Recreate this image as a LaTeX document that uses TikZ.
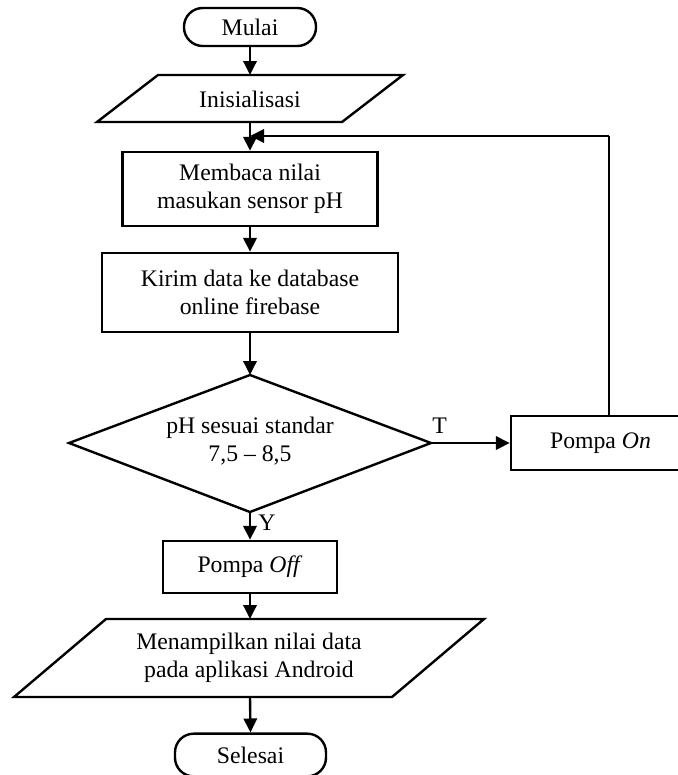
\documentclass[tikz,border=0pt]{standalone}
\usepackage{fontspec}
\setmainfont{Liberation Serif}
\usetikzlibrary{arrows.meta}
\begin{document}
\begin{tikzpicture}[x=0.75pt,y=-0.75pt,
  every node/.style={font=\fontsize{17.8pt}{20.6pt}\selectfont, inner sep=0pt, align=center},
  shp/.style={draw, line width=1.8pt},
  boxnode/.style={shp, rectangle},
  term/.style={shp, rectangle, rounded corners=14pt},
  arr/.style={line width=1.8pt, -{Triangle[length=10.5pt,width=10pt]}},
  thinline/.style={line width=0.9pt},
]
\useasboundingbox (0,0) rectangle (678,775);
\clip (0,0) rectangle (678,775);

% nodes
\node[term, minimum width=99pt, minimum height=28.5pt] (mulai) at (250,27) {Mulai};

\draw[shp] (158,75) -- (403,75) -- (342,122) -- (97,122) -- cycle;
\node (inis) at (250,99) {Inisialisasi};
\coordinate (inisT) at (250,75);
\coordinate (inisB) at (250,122);

\node[boxnode, minimum width=191.25pt, minimum height=55.5pt] (baca) at (250,189) {Membaca nilai\\masukan sensor pH};
\node[boxnode, minimum width=222pt, minimum height=59.25pt] (kirim) at (250,292.5) {Kirim data ke database\\online firebase};

\draw[shp] (250,375) -- (431,443) -- (250,512) -- (69,443) -- cycle;
\node (dec) at (250,441) {pH sesuai standar\\7,5 -- 8,5};
\coordinate (decT) at (250,375);
\coordinate (decR) at (431,443);
\coordinate (decB) at (250,512);

\node[boxnode, minimum width=134.25pt, minimum height=40.5pt] (on) at (600.5,443) {Pompa \textit{On}};
\node[boxnode, minimum width=130.5pt, minimum height=39pt] (off) at (250,567) {Pompa \textit{Off}};

\draw[shp] (106,619) -- (484,619) -- (392,697) -- (14,697) -- cycle;
\node (tampil) at (249,658) {Menampilkan nilai data\\pada aplikasi Android};
\coordinate (tampilT) at (250,619);
\coordinate (tampilB) at (250,697);

\node[term, minimum width=113.25pt, minimum height=32pt] (selesai) at (250.5,755) {Selesai};

\node (tlab) at (439.5,426) {T};
\node (ylab) at (267,522.5) {Y};

% connectors
\draw[arr] (mulai.south) -- (inisT);
\draw[arr] (inisB) -- (baca.north);
\draw[arr] (baca.south) -- (kirim.north);
\draw[arr] (kirim.south) -- (decT);
\draw[arr] (decR) -- (on.west);
\draw[arr] (decB) -- (off.north);
\draw[arr] (off.south) -- (tampilT);
\draw[arr] (tampilB) -- (selesai.north);

\coordinate (fbc) at (609,136);
\coordinate (fbe) at (250,136);
\draw[thinline] (on.north -| fbc) -- (fbc);
\draw[arr] (fbc) -- (fbe);
\end{tikzpicture}
\end{document}
